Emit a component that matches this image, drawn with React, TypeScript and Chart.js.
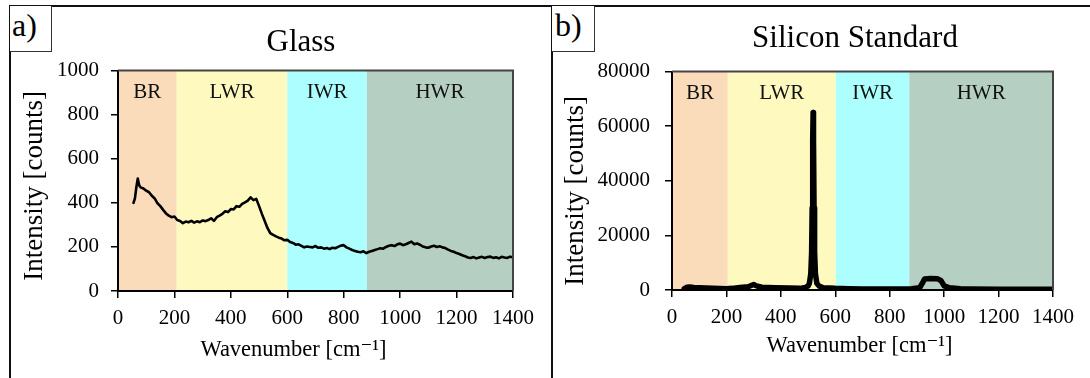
import React, { useEffect, useRef } from "react";
import { Chart, registerables } from "chart.js";

Chart.register(...registerables);

// ---------- DATA ----------
const regionNames = ["BR", "LWR", "IWR", "HWR"];
const regionColors = ["#FADCBA", "#FEF9BF", "#ADFEFE", "#B5D0C3"];
const glassRegionEdges = [0, 208, 600, 882, 1400];
const siliconRegionEdges = [0, 205, 602, 872, 1400];

const glassWavenumber = [
  55, 60, 65, 70, 75, 80, 90, 100, 110, 120, 130, 140, 150, 160, 170, 180, 190, 200,
  210, 220, 230, 240, 250, 260, 270, 280, 290, 300, 310, 320, 330, 340, 350, 360, 370,
  380, 390, 400, 410, 420, 430, 440, 450, 460, 470, 480, 490, 500, 510, 520, 530, 540,
  550, 560, 570, 580, 590, 600, 610, 620, 630, 640, 650, 660, 670, 680, 690, 700, 710,
  720, 730, 740, 750, 760, 770, 780, 790, 800, 810, 820, 830, 840, 850, 860, 870, 880,
  890, 900, 910, 920, 930, 940, 950, 960, 970, 980, 990, 1000, 1010, 1020, 1030, 1040,
  1050, 1060, 1070, 1080, 1090, 1100, 1110, 1120, 1130, 1140, 1150, 1160, 1170, 1180,
  1190, 1200, 1210, 1220, 1230, 1240, 1250, 1260, 1270, 1280, 1290, 1300, 1310, 1320,
  1330, 1340, 1350, 1360, 1370, 1380, 1390, 1400,
];
const glassIntensity = [
  400, 420, 470, 510, 480, 470, 465, 455, 448, 432, 420, 398, 385, 368, 352, 342, 335, 338,
  322, 318, 308, 315, 312, 318, 310, 316, 312, 320, 317, 322, 330, 318, 335, 342, 350,
  362, 358, 372, 370, 385, 382, 395, 402, 410, 425, 412, 418, 385, 350, 318, 285, 262,
  255, 248, 242, 238, 230, 232, 222, 218, 210, 212, 205, 198, 202, 200, 198, 204, 196,
  198, 192, 195, 190, 196, 194, 200, 206, 208, 198, 192, 186, 182, 178, 176, 180, 172,
  178, 182, 186, 190, 194, 192, 200, 205, 208, 204, 212, 215, 208, 212, 218, 224,
  212, 216, 210, 202, 198, 196, 202, 205, 200, 203, 198, 195, 188, 182,
  178, 172, 168, 162, 158, 152, 150, 154, 148, 152, 155, 150, 154, 156,
  150, 153, 148, 155, 152, 150, 156, 152,
];

const siliconWavenumber = [
  45, 55, 65, 80, 100, 150, 200, 220, 250, 280, 300, 310, 330, 380, 430, 470, 490, 500,
  505, 510, 513, 515, 517, 518.5, 520, 522, 524, 527, 532, 540, 555, 600, 650, 700, 800,
  880, 910, 920, 928, 950, 975, 988, 1000, 1020, 1060, 1100, 1200, 1300, 1400,
];
const siliconIntensity = [
  500, 1000, 1100, 900, 800, 600, 500, 600, 900, 1200, 2000, 1500, 1000, 800, 700, 600,
  900, 1500, 2500, 6000, 14000, 30000, 55000, 65000, 55000, 30000, 14000, 6000, 2500,
  1500, 800, 600, 500, 400, 400, 500, 800, 2500, 4000, 4200, 4100, 3500, 1500, 800, 500,
  400, 300, 300, 300,
];

const xTickStep = 200;
const glassYMax = 1000;
const glassYStep = 200;
const siliconYMax = 80000;
const siliconYStep = 20000;

const xAxisTitle = "Wavenumber [cm\u207B\u00B9]";
const yAxisTitle = "Intensity [counts]";

const FONT = "'Liberation Serif', 'DejaVu Serif', serif";

type PanelCfg = {
  xs: number[];
  ys: number[];
  edges: number[];
  yMax: number;
  yStep: number;
  lineWidth: number;
  pad: { left: number; right: number; top: number; bottom: number };
  yWidth: number;
  xHeight: number;
  yTickPad: number;
  yTitleDx: number; // offset of y-title centre from chartArea.left
  yTitleDy: number; // offset of y-title centre from chartArea middle
  xTitleDx: number; // offset of x-title centre from chartArea centre
  xTitleDy: number; // baseline offset from chartArea.bottom
};

function makePanelPlugin(cfg: PanelCfg) {
  return {
    id: "panelDecor",
    beforeDraw(chart: any) {
      const { ctx, chartArea, scales } = chart;
      const x = scales.x;
      ctx.save();
      for (let i = 0; i < regionNames.length; i++) {
        const x0 = x.getPixelForValue(cfg.edges[i]);
        const x1 = x.getPixelForValue(cfg.edges[i + 1]);
        ctx.fillStyle = regionColors[i];
        ctx.fillRect(x0, chartArea.top, x1 - x0, chartArea.bottom - chartArea.top);
      }
      ctx.fillStyle = "#111";
      ctx.font = `21px ${FONT}`;
      ctx.textAlign = "center";
      ctx.textBaseline = "alphabetic";
      for (let i = 0; i < regionNames.length; i++) {
        const x0 = x.getPixelForValue(cfg.edges[i]);
        const x1 = x.getPixelForValue(cfg.edges[i + 1]);
        ctx.fillText(regionNames[i], (x0 + x1) / 2, chartArea.top + 27);
      }
      ctx.restore();
    },
    afterDatasetsDraw(chart: any) {
      const { ctx, chartArea } = chart;
      ctx.save();
      ctx.strokeStyle = "#444";
      ctx.lineWidth = 2;
      ctx.beginPath();
      ctx.moveTo(chartArea.left, chartArea.top);
      ctx.lineTo(chartArea.right, chartArea.top);
      ctx.lineTo(chartArea.right, chartArea.bottom);
      ctx.stroke();
      ctx.restore();
    },
    afterDraw(chart: any) {
      const { ctx, chartArea } = chart;
      ctx.save();
      ctx.fillStyle = "#000";
      // x axis title
      ctx.font = `22.5px ${FONT}`;
      ctx.textAlign = "center";
      ctx.textBaseline = "alphabetic";
      ctx.fillText(
        xAxisTitle,
        (chartArea.left + chartArea.right) / 2 + cfg.xTitleDx,
        chartArea.bottom + cfg.xTitleDy
      );
      // y axis title
      ctx.font = `27px ${FONT}`;
      ctx.translate(chartArea.left + cfg.yTitleDx, (chartArea.top + chartArea.bottom) / 2 + cfg.yTitleDy);
      ctx.rotate(-Math.PI / 2);
      ctx.textBaseline = "middle";
      ctx.fillText(yAxisTitle, 0, 0);
      ctx.restore();
    },
  };
}

function Panel({ cfg, width, height }: { cfg: PanelCfg; width: number; height: number }) {
  const ref = useRef<HTMLCanvasElement | null>(null);
  useEffect(() => {
    if (!ref.current) return;
    const chart = new Chart(ref.current, {
      type: "line",
      data: {
        datasets: [
          {
            data: cfg.xs.map((x, i) => ({ x, y: cfg.ys[i] })),
            borderColor: "#000",
            borderWidth: cfg.lineWidth,
            borderJoinStyle: "round",
            borderCapStyle: "round",
            pointRadius: 0,
            tension: 0,
            fill: false,
          },
        ],
      },
      options: {
        animation: false,
        responsive: false,
        devicePixelRatio: 1,
        layout: { padding: cfg.pad },
        plugins: { legend: { display: false }, tooltip: { enabled: false }, title: { display: false } },
        scales: {
          x: {
            type: "linear",
            min: 0,
            max: 1400,
            ticks: {
              stepSize: xTickStep,
              color: "#000",
              font: { family: FONT, size: 21 },
              padding: 8,
              maxRotation: 0,
              autoSkip: false,
              callback: (v: any) => String(v),
            },
            grid: { drawOnChartArea: false, drawTicks: true, tickLength: 7, color: "#000", lineWidth: 1.5 },
            border: { display: true, color: "#000", width: 2 },
            title: { display: false, text: xAxisTitle },
            afterFit: (s: any) => {
              s.height = cfg.xHeight;
            },
          },
          y: {
            type: "linear",
            min: 0,
            max: cfg.yMax,
            ticks: {
              stepSize: cfg.yStep,
              color: "#000",
              font: { family: FONT, size: 21 },
              padding: cfg.yTickPad,
              callback: (v: any) => String(v),
            },
            grid: { drawOnChartArea: false, drawTicks: true, tickLength: 7, color: "#000", lineWidth: 1.5 },
            border: { display: true, color: "#000", width: 2 },
            title: { display: false, text: yAxisTitle },
            afterFit: (s: any) => {
              s.width = cfg.yWidth;
            },
          },
        },
      } as any,
      plugins: [makePanelPlugin(cfg)],
    });
    return () => chart.destroy();
  }, []);
  return <canvas ref={ref} width={width} height={height} style={{ display: "block" }} />;
}

// canvas a: left 11, top 46 -> plot top = 46 + 12.6 + 12 = 70.6
const glassCfg: PanelCfg = {
  xs: glassWavenumber,
  ys: glassIntensity,
  edges: glassRegionEdges,
  yMax: glassYMax,
  yStep: glassYStep,
  lineWidth: 2.6,
  pad: { left: 8, right: 38, top: 0, bottom: 16 },
  yWidth: 99,
  xHeight: 71,
  yTickPad: 12,
  yTitleDx: -83,
  yTitleDy: 5,
  xTitleDx: -22,
  xTitleDy: 65,
};

// canvas b: left 554, top 44 -> plot top = 44 + 12.6 + 15 = 71.6
const siliconCfg: PanelCfg = {
  xs: siliconWavenumber,
  ys: siliconIntensity,
  edges: siliconRegionEdges,
  yMax: siliconYMax,
  yStep: siliconYStep,
  lineWidth: 5.5,
  pad: { left: 5, right: 37, top: 0, bottom: 20 },
  yWidth: 113,
  xHeight: 68,
  yTickPad: 15,
  yTitleDx: -96,
  yTitleDy: 10,
  xTitleDx: -3,
  xTitleDy: 62,
};

const lineStyle = (s: React.CSSProperties): React.CSSProperties => ({
  position: "absolute",
  background: "#111",
  ...s,
});

export default function App() {
  return (
    <div
      style={{
        position: "absolute",
        left: 0,
        top: 0,
        width: 1090,
        height: 378,
        overflow: "hidden",
        background: "#fff",
        fontFamily: FONT,
        color: "#000",
      }}
    >
      {/* charts */}
      <div style={{ position: "absolute", left: 11, top: 46 }}>
        <Panel cfg={glassCfg} width={540} height={332} />
      </div>
      <div style={{ position: "absolute", left: 554, top: 44 }}>
        <Panel cfg={siliconCfg} width={536} height={334} />
      </div>
      {/* frame lines */}
      <div style={lineStyle({ left: 9, top: 5, width: 1081, height: 2 })} />
      <div style={lineStyle({ left: 9, top: 5, width: 2, height: 373 })} />
      <div style={lineStyle({ left: 551, top: 5, width: 2, height: 373 })} />
      {/* panel label boxes */}
      <div
        style={{
          position: "absolute",
          left: 10,
          top: 6,
          width: 41,
          height: 45,
          borderRight: "1px solid #333",
          borderBottom: "1px solid #333",
          background: "#fff",
        }}
      >
        <div style={{ position: "absolute", left: 2, top: 3, fontSize: 32, lineHeight: "32px" }}>a)</div>
      </div>
      <div
        style={{
          position: "absolute",
          left: 552,
          top: 6,
          width: 42,
          height: 45,
          borderRight: "1px solid #333",
          borderBottom: "1px solid #333",
          background: "#fff",
        }}
      >
        <div style={{ position: "absolute", left: 3, top: 3, fontSize: 32, lineHeight: "32px" }}>b)</div>
      </div>
      {/* titles */}
      <div
        style={{
          position: "absolute",
          left: 151,
          top: 25,
          width: 300,
          textAlign: "center",
          fontSize: 31,
          lineHeight: "31px",
        }}
      >
        Glass
      </div>
      <div
        style={{
          position: "absolute",
          left: 705,
          top: 21,
          width: 300,
          textAlign: "center",
          fontSize: 31,
          lineHeight: "31px",
        }}
      >
        Silicon Standard
      </div>
    </div>
  );
}
